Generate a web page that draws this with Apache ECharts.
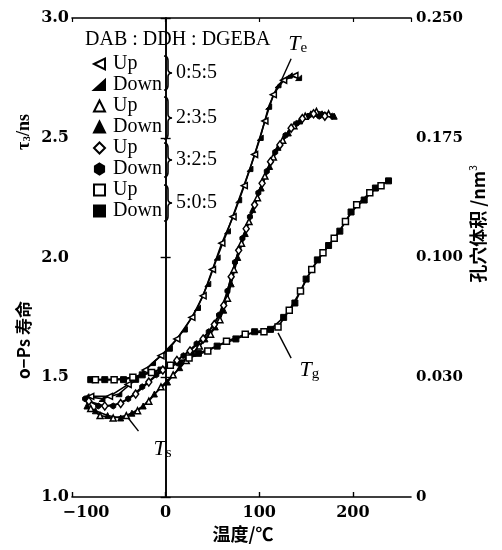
<!DOCTYPE html>
<html>
<head>
<meta charset="utf-8">
<script src="https://cdn.jsdelivr.net/npm/echarts@6/dist/echarts.min.js"></script>
<style>
html,body{margin:0;padding:0;background:#fff;}
#c{width:502px;height:550px;}
</style>
</head>
<body>
<div id="c"></div>
<script>
// Axis ranges and tick labels
const tempRange = [-100, 262];
const tempInterval = 100;
const lifeRange = [1.0, 3.0];
const lifeInterval = 0.5;
const volumeTickLabels = ['0', '0.030', '0.100', '0.175', '0.250'];

// DAB:DDH:DGEBA compositions
const ratios = ['0:5:5', '2:3:5', '3:2:5', '5:0:5'];

// o-Ps lifetime (ns) vs temperature (°C), heating (Up) and cooling (Down) runs
const up055 = [[-80,1.42],[-60,1.42],[-40,1.47],[-22,1.53],[-5,1.59],[12,1.66],[28,1.75],[40,1.84],[50,1.95],[60,2.06],[72,2.17],[84,2.30],[95,2.43],[106,2.57],[115,2.68],[126,2.74],[138,2.76]];
const down055 = [[-85,1.42],[-68,1.41],[-50,1.43],[-32,1.49],[-14,1.56],[4,1.62],[20,1.70],[34,1.79],[45,1.89],[55,2.00],[66,2.11],[78,2.24],[90,2.37],[101,2.50],[110,2.63],[120,2.72],[132,2.76],[142,2.75]];

const up235 = [[-80,1.37],[-70,1.34],[-56,1.33],[-42,1.34],[-30,1.36],[-18,1.40],[-5,1.46],[8,1.51],[22,1.57],[36,1.63],[48,1.68],[58,1.74],[66,1.83],[73,1.95],[81,2.06],[89,2.15],[98,2.25],[106,2.34],[115,2.42],[125,2.49],[137,2.55],[149,2.59],[161,2.61],[174,2.60]];
const down235 = [[-84,1.38],[-75,1.36],[-62,1.34],[-48,1.33],[-36,1.35],[-24,1.38],[-12,1.43],[2,1.48],[15,1.54],[29,1.60],[42,1.66],[53,1.71],[62,1.78],[70,1.89],[77,2.00],[85,2.10],[93,2.20],[102,2.29],[111,2.38],[120,2.46],[131,2.52],[143,2.57],[155,2.60],[167,2.60],[180,2.59]];

const up325 = [[-82,1.40],[-65,1.38],[-48,1.39],[-32,1.43],[-18,1.48],[-3,1.53],[12,1.57],[26,1.61],[40,1.66],[52,1.72],[62,1.80],[70,1.92],[78,2.03],[86,2.12],[95,2.22],[103,2.31],[112,2.40],[122,2.47],[134,2.54],[146,2.58],[158,2.60],[170,2.59]];
const down325 = [[-86,1.41],[-72,1.38],[-56,1.38],[-40,1.41],[-25,1.46],[-10,1.51],[5,1.55],[19,1.59],[33,1.64],[46,1.69],[57,1.76],[66,1.86],[74,1.98],[82,2.08],[90,2.17],[99,2.27],[108,2.36],[117,2.44],[128,2.51],[140,2.56],[152,2.59],[164,2.59],[178,2.59]];

const up505 = [[-75,1.49],[-55,1.49],[-35,1.50],[-15,1.52],[5,1.55],[25,1.58],[45,1.61],[65,1.65],[85,1.68],[105,1.69],[120,1.71],[132,1.78],[144,1.86],[156,1.95],[168,2.02],[180,2.08],[192,2.15],[204,2.22],[218,2.27],[230,2.30]];
const down505 = [[-80,1.49],[-65,1.49],[-45,1.49],[-25,1.51],[-5,1.53],[15,1.56],[35,1.60],[55,1.63],[75,1.66],[95,1.69],[112,1.70],[126,1.75],[138,1.81],[150,1.91],[162,1.99],[174,2.05],[186,2.11],[198,2.19],[212,2.24],[224,2.29],[238,2.32]];

// Transition annotations (text anchor and pointer in data units)
const annotations = [
  { main: 'T', sub: 'e', at: [131, 2.89], from: [134, 2.83], to: [123, 2.735] },
  { main: 'T', sub: 'g', at: [143, 1.53], from: [120, 1.685], to: [134, 1.58] },
  { main: 'T', sub: 's', at: [-13, 1.20], from: [-40, 1.33], to: [-29, 1.275] }
];

const SYM_LTRI = 'path://M0,5 L10,0 L10,10 Z';
const SYM_WEDGE = 'path://M0,10 L10,1 L10,10 Z';
const SYM_BLOB = 'path://M5,0 L10,3 L10,9 L5,12 L0,9 L0,3 Z';

const seriesDefs = [
  { name: '0:5:5 Up', data: up055, symbol: SYM_LTRI, filled: false, size: 6 },
  { name: '0:5:5 Down', data: down055, symbol: SYM_WEDGE, filled: true, size: 6 },
  { name: '2:3:5 Up', data: up235, symbol: 'triangle', filled: false, size: 6 },
  { name: '2:3:5 Down', data: down235, symbol: 'triangle', filled: true, size: 6 },
  { name: '3:2:5 Up', data: up325, symbol: 'diamond', filled: false, size: [6, 8] },
  { name: '3:2:5 Down', data: down325, symbol: SYM_BLOB, filled: true, size: 6 },
  { name: '5:0:5 Up', data: up505, symbol: 'rect', filled: false, size: 6 },
  { name: '5:0:5 Down', data: down505, symbol: 'rect', filled: true, size: 6 }
];

const numFont = '"DejaVu Serif"';
const serif = '"Liberation Serif"';
const cjk = '"Noto Sans CJK SC"';

const series = seriesDefs.map(d => ({
  name: d.name,
  type: 'line',
  data: d.data,
  symbol: d.symbol,
  symbolSize: d.size,
  symbolKeepAspect: true,
  showSymbol: true,
  lineStyle: { color: '#000', width: 1.6 },
  itemStyle: d.filled
    ? { color: '#000', borderColor: '#000', borderWidth: 1 }
    : { color: '#fff', borderColor: '#000', borderWidth: 1.5 },
  z: d.filled ? 3 : 4,
  animation: false
}));

const option = {
  animation: false,
  backgroundColor: '#fff',
  grid: { left: 72, right: 91, top: 18, bottom: 53, containLabel: false },
  xAxis: [
    {
      type: 'value', min: tempRange[0], max: tempRange[1], interval: tempInterval,
      position: 'bottom',
      axisLine: { lineStyle: { color: '#000', width: 1.6 } },
      axisTick: { inside: true, length: 5, lineStyle: { color: '#000', width: 1.4 } },
      splitLine: { show: false },
      axisLabel: {
        color: '#000', fontFamily: numFont, fontWeight: 'bold', fontSize: 16, margin: 8,
        showMaxLabel: false,
        formatter: v => v === tempRange[0] ? '{n|−' + Math.abs(v) + '}' : String(v),
        rich: { n: { fontFamily: numFont, fontWeight: 'bold', fontSize: 16, color: '#000', padding: [0, 0, 0, 28] } }
      }
    },
    {
      type: 'value', min: tempRange[0], max: tempRange[1], interval: tempInterval,
      position: 'top',
      axisLine: { lineStyle: { color: '#000', width: 1.6 } },
      axisTick: { inside: true, length: 4, lineStyle: { color: '#000', width: 1.2 } },
      splitLine: { show: false },
      axisLabel: { show: false }
    }
  ],
  yAxis: [
    {
      type: 'value', min: lifeRange[0], max: lifeRange[1], interval: lifeInterval,
      position: 'left',
      axisLine: { show: true, lineStyle: { color: '#000', width: 1.6 } },
      axisTick: { show: true, inside: true, length: 5, lineStyle: { color: '#000', width: 1.4 } },
      splitLine: { show: false },
      axisLabel: {
        color: '#000', fontFamily: numFont, fontWeight: 'bold', fontSize: 16, margin: 3,
        formatter: v => v.toFixed(1)
      }
    },
    {
      type: 'value', min: lifeRange[0], max: lifeRange[1], interval: lifeInterval,
      position: 'right',
      axisLine: { show: true, lineStyle: { color: '#000', width: 1.6 } },
      axisTick: { show: true, inside: true, length: 5, lineStyle: { color: '#000', width: 1.4 } },
      splitLine: { show: false },
      axisLabel: {
        color: '#000', fontFamily: numFont, fontWeight: 'bold', fontSize: 15, margin: 5,
        formatter: v => volumeTickLabels[Math.round((v - lifeRange[0]) / lifeInterval)]
      }
    }
  ],
  legend: {
    orient: 'vertical',
    left: 88, top: 49,
    itemGap: 1, itemWidth: 11, itemHeight: 11,
    selectedMode: false,
    data: seriesDefs.map(d => ({ name: d.name, icon: d.symbol })),
    formatter: n => n.split(' ')[1],
    textStyle: { fontFamily: serif, fontSize: 20, color: '#000', padding: [0, 0, 0, 3] }
  },
  series: series
};

const chart = echarts.init(document.getElementById('c'), null, { renderer: 'canvas' });
chart.setOption(option);

// Sample a quadratic Bezier into points (excluding its start point)
function quad(p0, c, p1, n) {
  const out = [];
  for (let k = 1; k <= n; k++) {
    const t = k / n, u = 1 - t;
    out.push([u * u * p0[0] + 2 * u * t * c[0] + t * t * p1[0], u * u * p0[1] + 2 * u * t * c[1] + t * t * p1[1]]);
  }
  return out;
}
// Curly brace opening to the right, centred on cy with half-height h
function bracePoints(x0, cy, h) {
  const w = 4;
  const pts = [[x0, cy - h]];
  pts.push(...quad([x0, cy - h], [x0 + w, cy - h], [x0 + w, cy - h + 5], 6));
  pts.push([x0 + w, cy - 4]);
  pts.push(...quad([x0 + w, cy - 4], [x0 + w, cy], [x0 + 2 * w, cy], 6));
  pts.push(...quad([x0 + 2 * w, cy], [x0 + w, cy], [x0 + w, cy + 4], 6));
  pts.push([x0 + w, cy + h - 5]);
  pts.push(...quad([x0 + w, cy + h - 5], [x0 + w, cy + h], [x0, cy + h], 6));
  return pts;
}

// Static text: legend header, composition groups, axis names
const graphics = [];
graphics.push({
  type: 'text', x: 85, y: 40,
  style: { text: 'DAB : DDH : DGEBA', font: '20px ' + serif, fill: '#000', align: 'left', verticalAlign: 'middle' }
});
const groupCenters = [73, 118, 160, 203];
const groupSpans = [34, 42, 34, 36];
ratios.forEach((r, i) => {
  graphics.push({
    type: 'polyline',
    shape: { points: bracePoints(164, groupCenters[i], groupSpans[i] / 2) },
    style: { fill: null, stroke: '#000', lineWidth: 1.6 }
  });
  graphics.push({
    type: 'text', x: 176, y: groupCenters[i],
    style: { text: r, font: '20px ' + serif, fill: '#000', align: 'left', verticalAlign: 'middle' }
  });
});
graphics.push({
  type: 'text', x: 24, y: 132, rotation: Math.PI / 2,
  style: {
    text: 'τ{s|3}/ns', font: 'bold 18px ' + serif, fill: '#000', align: 'center', verticalAlign: 'middle',
    rich: { s: { fontSize: 11, fontWeight: 'bold', fontFamily: serif, verticalAlign: 'bottom', padding: [6, 0, 0, 0] } }
  }
});
graphics.push({
  type: 'text', x: 24, y: 340, rotation: Math.PI / 2,
  style: { text: 'o−Ps 寿命', font: 'bold 17px ' + cjk, fill: '#000', align: 'center', verticalAlign: 'middle' }
});
graphics.push({
  type: 'text', x: 478, y: 224, rotation: Math.PI / 2,
  style: {
    text: '孔穴体积 /nm{p|3}', font: 'bold 18px ' + cjk, fill: '#000', align: 'center', verticalAlign: 'middle',
    rich: { p: { fontSize: 10, fontFamily: cjk, verticalAlign: 'top', padding: [0, 0, 10, 0] } }
  }
});
graphics.push({
  type: 'text', x: 243, y: 534,
  style: { text: '温度/℃', font: 'bold 18px ' + cjk, fill: '#000', align: 'center', verticalAlign: 'middle' }
});

// Transition markers placed through the data coordinate system
annotations.forEach(a => {
  const p = chart.convertToPixel({ xAxisIndex: 0, yAxisIndex: 0 }, a.at);
  const f = chart.convertToPixel({ xAxisIndex: 0, yAxisIndex: 0 }, a.from);
  const t = chart.convertToPixel({ xAxisIndex: 0, yAxisIndex: 0 }, a.to);
  graphics.push({
    type: 'line', shape: { x1: f[0], y1: f[1], x2: t[0], y2: t[1] },
    style: { stroke: '#000', lineWidth: 1.4 }
  });
  graphics.push({
    type: 'text', x: p[0], y: p[1],
    style: {
      text: '{m|' + a.main + '}{b|' + a.sub + '}', align: 'left', verticalAlign: 'middle',
      rich: {
        m: { fontFamily: serif, fontStyle: 'italic', fontSize: 22, color: '#000' },
        b: { fontFamily: serif, fontSize: 15, color: '#000', verticalAlign: 'bottom', padding: [8, 0, 0, 0] }
      }
    }
  });
});

chart.setOption({ graphic: graphics });
</script>
</body>
</html>
